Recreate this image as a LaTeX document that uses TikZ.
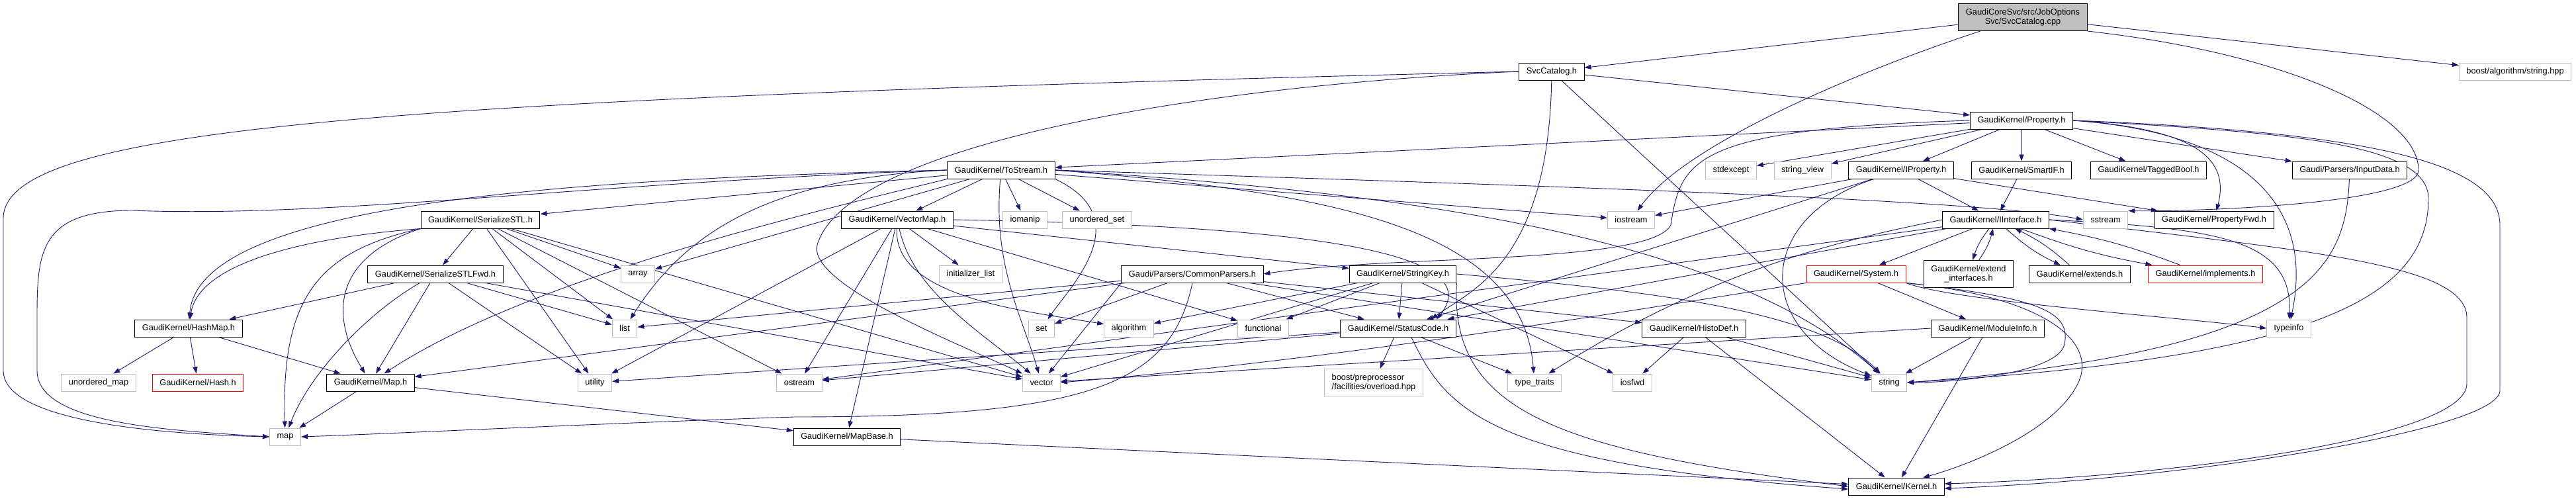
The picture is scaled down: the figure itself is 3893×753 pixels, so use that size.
\documentclass[tikz,border=0pt]{standalone}
\usepackage{fontspec}
\newfontfamily\depfont{Liberation Sans}
\usetikzlibrary{arrows.meta,backgrounds}
\definecolor{edgeblue}{RGB}{25,25,112}
\definecolor{sysgray}{RGB}{191,191,191}
\begin{document}
\begin{tikzpicture}[x=1pt,y=1pt,
    header/.style={draw=black, fill=white, line width=1pt, minimum height=26pt,
      inner xsep=11pt, inner ysep=2pt, align=center,
      font=\depfont\fontsize{12.8pt}{14.5pt}\selectfont},
    syshdr/.style={header, draw=sysgray},
    cuthdr/.style={header, draw=red},
    tallhdr/.style={minimum height=41pt},
    include/.style={draw=edgeblue, line width=0.9pt, -{Triangle[length=10pt,width=7pt]}}]
   \useasboundingbox (0,0) rectangle (3893,-753);
   % top rows
   \node[header, tallhdr, fill=sysgray] (root) at (3057,-26) {GaudiCoreSvc/src/JobOptions\\Svc/SvcCatalog.cpp};
   \node[header] (svccat) at (2345,-108) {SvcCatalog.h};
   \node[syshdr] (boostalg) at (3801,-108) {boost/algorithm/string.hpp};
   \node[header] (property) at (3055,-182) {GaudiKernel/Property.h};
   \node[header] (tostream) at (1513,-257) {GaudiKernel/ToStream.h};
   \node[syshdr] (stdexcept) at (2616,-257) {stdexcept};
   \node[syshdr] (stringview) at (2724,-257) {string\_view};
   \node[header] (iproperty) at (2873,-257) {GaudiKernel/IProperty.h};
   \node[header] (smartif) at (3055,-257) {GaudiKernel/SmartIF.h};
   \node[header] (taggedbool) at (3247,-257) {GaudiKernel/TaggedBool.h};
   \node[header] (inputdata) at (3551,-257) {Gaudi/Parsers/InputData.h};
   \node[header] (serstl) at (726,-332) {GaudiKernel/SerializeSTL.h};
   \node[header] (vectormap) at (1356,-332) {GaudiKernel/VectorMap.h};
   \node[syshdr] (iomanip) at (1549,-332) {iomanip};
   \node[syshdr] (unorderedset) at (1658,-332) {unordered\_set};
   \node[syshdr] (iostream) at (2465,-332) {iostream};
   \node[header] (iinterface) at (3016,-332) {GaudiKernel/IInterface.h};
   \node[syshdr] (sstream) at (3182,-332) {sstream};
   \node[header] (propertyfwd) at (3346,-332) {GaudiKernel/PropertyFwd.h};
   \node[header] (serstlfwd) at (658,-414) {GaudiKernel/SerializeSTLFwd.h};
   \node[syshdr] (array) at (964,-414) {array};
   \node[syshdr] (initlist) at (1467,-414) {initializer\_list};
   \node[header] (commonparsers) at (1802,-414) {Gaudi/Parsers/CommonParsers.h};
   \node[header] (stringkey) at (2120,-414) {GaudiKernel/StringKey.h};
   \node[cuthdr] (system) at (2805,-414) {GaudiKernel/System.h};
   \node[header, tallhdr] (extendif) at (2975,-414) {GaudiKernel/extend\\\_interfaces.h};
   \node[header] (extends) at (3143,-414) {GaudiKernel/extends.h};
   \node[cuthdr] (implements) at (3333,-414) {GaudiKernel/implements.h};
   % lower rows
   \node[header] (hashmap) at (285,-496) {GaudiKernel/HashMap.h};
   \node[syshdr] (list) at (944,-496) {list};
   \node[syshdr] (set) at (1574,-496) {set};
   \node[syshdr] (algorithm) at (1706,-496) {algorithm};
   \node[syshdr] (functional) at (1909,-496) {functional};
   \node[header] (statuscode) at (2113,-496) {GaudiKernel/StatusCode.h};
   \node[header] (histodef) at (2560,-496) {GaudiKernel/HistoDef.h};
   \node[header] (moduleinfo) at (3004,-496) {GaudiKernel/ModuleInfo.h};
   \node[syshdr] (typeinfo) at (3459,-496) {typeinfo};
   \node[syshdr] (unorderedmap) at (149,-578) {unordered\_map};
   \node[cuthdr] (hash) at (299,-578) {GaudiKernel/Hash.h};
   \node[header] (mapfile) at (560,-578) {GaudiKernel/Map.h};
   \node[syshdr] (utility) at (899,-578) {utility};
   \node[syshdr] (ostream) at (1208,-578) {ostream};
   \node[syshdr] (vector) at (1574,-578) {vector};
   \node[syshdr, tallhdr, align=left] (boostpp) at (2076,-578) {boost/preprocessor\\/facilities/overload.hpp};
   \node[syshdr] (typetraits) at (2319,-578) {type\_traits};
   \node[syshdr] (iosfwd) at (2467,-578) {iosfwd};
   \node[syshdr] (string) at (2855,-578) {string};
   \node[syshdr] (map) at (431,-660) {map};
   \node[header] (mapbase) at (1280,-660) {GaudiKernel/MapBase.h};
   \node[header] (kernel) at (2866,-735) {GaudiKernel/Kernel.h};
   \begin{scope}[on background layer]
   % SvcCatalog.cpp
   \draw[include] (root) to (svccat);
   \draw[include] (root) to (boostalg);
   \draw[include] (root) .. controls (2800,-110) and (2545,-220) .. (iostream);
   \draw[include] (root.south east) .. controls (3450,-80) and (3655,-170) .. (3655,-257) .. controls (3655,-310) and (3300,-320) .. (sstream.north east);
   % SvcCatalog.h
   \draw[include] (svccat) to (property);
   \draw[include] (svccat.west) .. controls (600,-150) and (5,-190) .. (5,-330) -- (5,-560) .. controls (5,-630) and (200,-655) .. (map.west);
   \draw[include] (svccat.west) .. controls (1800,-130) and (1280,-220) .. (1235,-370) .. controls (1220,-430) and (1450,-520) .. (vector.north west);
   \draw[include] (svccat) .. controls (2340,-400) and (2220,-440) .. ([xshift=50pt]statuscode.north);
   \draw[include] (svccat) to (string);
   % Property.h
   \draw[include] (property) to (tostream);
   \draw[include] (property) to (stdexcept);
   \draw[include] (property) to (stringview);
   \draw[include] (property) to (iproperty);
   \draw[include] (property) to (smartif);
   \draw[include] (property) to (taggedbool);
   \draw[include] (property) to (inputdata);
   \draw[include] (property.east) .. controls (3320,-195) and (3370,-240) .. (propertyfwd);
   \draw[include] (property.east) .. controls (3380,-200) and (3500,-300) .. (typeinfo);
   \draw[include] (property.east) .. controls (3600,-200) and (3778,-250) .. (3778,-340) -- (3778,-590) .. controls (3778,-650) and (3300,-725) .. ([yshift=-3pt]kernel.east);
   \draw[include] (property.east) .. controls (3450,-200) and (3670,-215) .. (3670,-300) .. controls (3670,-450) and (3500,-540) .. (string.east);
   \draw[include] (property.west) .. controls (2560,-195) and (2540,-240) .. (2525,-340) .. controls (2495,-400) and (2100,-385) .. (commonparsers.east);
   % ToStream.h
   \draw[include] (tostream) to (vectormap);
   \draw[include] (tostream) to (iomanip);
   \draw[include] (tostream) to (unorderedset);
   \draw[include] (tostream) to (iostream);
   \draw[include] (tostream.east) .. controls (2300,-280) and (2980,-300) .. (sstream.west);
   \draw[include] (tostream) to (serstl);
   \draw[include] (tostream) to (array);
   \draw[include] (tostream.west) .. controls (1150,-270) and (1030,-360) .. (list);
   \draw[include] (tostream.west) .. controls (900,-275) and (500,-330) .. (200,-318) .. controls (60,-318) and (56,-380) .. (56,-480) -- (56,-560) .. controls (56,-640) and (250,-650) .. (map.west);
   \draw[include] (tostream.west) .. controls (900,-270) and (300,-300) .. (hashmap);
   \draw[include] (tostream.south west) .. controls (1230,-320) and (800,-420) .. (mapfile);
   \draw[include] (tostream.south east) .. controls (1720,-330) and (1620,-430) .. (set);
   \draw[include] (tostream) .. controls (1500,-400) and (1545,-480) .. (vector);
   \draw[include] (tostream.east) .. controls (2100,-290) and (2600,-350) .. (string);
   \draw[include] (tostream.east) .. controls (2000,-290) and (2300,-340) .. (typetraits);
   % SerializeSTL.h
   \draw[include] (serstl) to (serstlfwd);
   \draw[include] (serstl) to (array);
   \draw[include] (serstl) to (list);
   \draw[include] (serstl.south west) .. controls (450,-360) and (300,-400) .. (hashmap);
   \draw[include] (serstl.south west) .. controls (480,-380) and (425,-450) .. (map);
   \draw[include] (serstl.south west) .. controls (500,-390) and (500,-480) .. (mapfile);
   \draw[include] (serstl) to (utility);
   \draw[include] (serstl) to (ostream);
   \draw[include] (serstl) to (vector);
   % SerializeSTLFwd.h
   \draw[include] (serstlfwd) to (hashmap);
   \draw[include] (serstlfwd) .. controls (560,-470) and (470,-560) .. (map);
   \draw[include] (serstlfwd) to (mapfile);
   \draw[include] (serstlfwd) to (utility);
   \draw[include] (serstlfwd) to (vector);
   \draw[include] (serstlfwd) to (list);
   % VectorMap.h
   \draw[include] (vectormap) to (initlist);
   \draw[include] (vectormap) to (mapbase);
   \draw[include] (vectormap) to (ostream);
   \draw[include] (vectormap) .. controls (1380,-440) and (1480,-500) .. (vector);
   \draw[include] (vectormap) to (utility);
   \draw[include] (vectormap) .. controls (1350,-450) and (1550,-470) .. (algorithm);
   \draw[include] (vectormap) to (functional);
   \draw[include] (vectormap) to (stringkey);
   \draw[include] (vectormap.east) .. controls (1900,-340) and (2260,-370) .. ([xshift=58pt]statuscode.north);
   % CommonParsers.h
   \draw[include] (commonparsers) to (set);
   \draw[include] (commonparsers) to (statuscode);
   \draw[include] (commonparsers) to (histodef);
   \draw[include] (commonparsers) to (string);
   \draw[include] (commonparsers.south west) to (vector);
   \draw[include] (commonparsers.south) .. controls (1770,-580) and (1650,-630) .. (1200,-630) .. controls (900,-640) and (600,-655) .. (map.east);
   \draw[include] (commonparsers) to (list);
   \draw[include] (commonparsers) to (mapfile);
   % StringKey.h
   \draw[include] (stringkey) to (algorithm);
   \draw[include] (stringkey) to (functional);
   \draw[include] (stringkey) to (vector);
   \draw[include] (stringkey) to (statuscode);
   \draw[include] (stringkey) to (iosfwd);
   \draw[include] (stringkey.east) .. controls (2500,-440) and (2750,-470) .. (string);
   \draw[include] (stringkey.south east) .. controls (2190,-620) and (2350,-680) .. (kernel.west);
   % StatusCode.h
   \draw[include] (statuscode) to (boostpp);
   \draw[include] (statuscode) to (typetraits);
   \draw[include] (statuscode) to (ostream);
   \draw[include] (statuscode) to (utility);
   \draw[include] ([xshift=20pt]statuscode.south) .. controls (2185,-620) and (2250,-700) .. ([yshift=-4pt]kernel.west);
   % HistoDef.h
   \draw[include] (histodef) to (iosfwd);
   \draw[include] (histodef) to (string);
   \draw[include] (histodef) to (kernel);
   % IProperty.h
   \draw[include] (iproperty) to (iostream);
   \draw[include] (iproperty) to (iinterface);
   \draw[include] (iproperty) to (propertyfwd);
   \draw[include] (iproperty) to (statuscode);
   \draw[include] (iproperty) .. controls (2650,-330) and (2650,-500) .. (string);
   % IInterface.h
   \draw[include] (iinterface) to (system);
   \draw[include] (iinterface) to[bend right=10] (extendif);
   \draw[include] (extendif) to[bend right=10] (iinterface);
   \draw[include] (iinterface) to[bend right=8] (extends);
   \draw[include] (extends) to[bend right=8] (iinterface);
   \draw[include] (iinterface) to[bend right=5] (implements);
   \draw[include] (implements) to[bend right=5] (iinterface);
   \draw[include] (iinterface.east) .. controls (3350,-345) and (3465,-360) .. (typeinfo);
   \draw[include] (iinterface.east) .. controls (3500,-380) and (3728,-400) .. (3728,-480) -- (3728,-580) .. controls (3728,-660) and (3300,-720) .. ([yshift=4pt]kernel.east);
   \draw[include] (iinterface) to (statuscode);
   \draw[include] (iinterface) to (ostream);
   \draw[include] (iinterface.west) .. controls (2800,-360) and (2600,-400) .. (typetraits);
   % System.h
   \draw[include] (system) to (moduleinfo);
   \draw[include] (system.south east) .. controls (2950,-455) and (3300,-480) .. (typeinfo.west);
   \draw[include] (system.south east) .. controls (3080,-450) and (3130,-470) .. (3120,-520) .. controls (3110,-565) and (2950,-578) .. (string.east);
   \draw[include] (system.south east) .. controls (3100,-450) and (3170,-520) .. (3140,-580) .. controls (3100,-660) and (2950,-710) .. ([xshift=40pt]kernel.north);
   \draw[include] (system.south west) .. controls (2400,-480) and (2000,-545) .. (vector.east);
   % ModuleInfo.h
   \draw[include] (moduleinfo) to (string);
   \draw[include] (moduleinfo) to (kernel);
   \draw[include] (moduleinfo.west) to (vector);
   % small headers
   \draw[include] (smartif) to (iinterface);
   \draw[include] (inputdata) .. controls (3545,-400) and (3500,-530) .. (string.east);
   \draw[include] (hashmap) to (unorderedmap);
   \draw[include] (hashmap) to (hash);
   \draw[include] (hashmap) to (mapfile);
   \draw[include] (mapfile) to (map);
   \draw[include] (mapfile) to (mapbase);
   \draw[include] (mapbase) to (kernel);
   \end{scope}
\end{tikzpicture}
\end{document}
